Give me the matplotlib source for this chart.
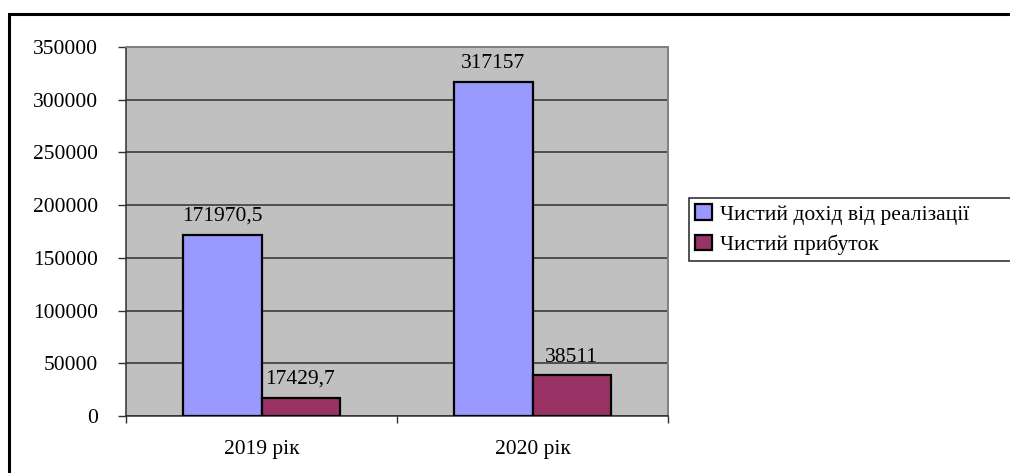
import matplotlib
matplotlib.use("Agg")
import matplotlib.pyplot as plt
from matplotlib.patches import Rectangle
import numpy as np

categories = ["2019 рік", "2020 рік"]
revenue = [171970.5, 317157]
profit = [17429.7, 38511]
revenue_labels = ["171970,5", "317157"]
profit_labels = ["17429,7", "38511"]
series_names = ["Чистий дохід від реалізації", "Чистий прибуток"]

plt.rcParams["font.family"] = ["Liberation Serif", "DejaVu Serif"]
FS = 15.5

W, H = 1010, 473
fig = plt.figure(figsize=(W / 100, H / 100), dpi=100)

# outer chart frame (runs off the right and bottom edges)
fig.patches.append(Rectangle((9 / W, -0.1), 1.5, (H - 14) / H + 0.1,
                             transform=fig.transFigure, fill=False,
                             edgecolor="black", linewidth=2.2, zorder=0))

ax = fig.add_axes([126 / W, 1 - 416 / H, (668 - 126) / W, (416 - 47) / H])
ax.set_facecolor("#C0C0C0")

x = np.arange(len(categories))
bw = 0.288
b1 = ax.bar(x - bw / 2, revenue, bw, color="#9999FF", edgecolor="black",
            linewidth=1.6, label=series_names[0], zorder=3)
b2 = ax.bar(x + bw / 2, profit, bw, color="#993366", edgecolor="black",
            linewidth=1.6, label=series_names[1], zorder=3)

for rects, labels in ((b1, revenue_labels), (b2, profit_labels)):
    for r, lab in zip(rects, labels):
        ax.annotate(lab, (r.get_x() + r.get_width() / 2, r.get_height()),
                    xytext=(0, 10), textcoords="offset points",
                    ha="center", va="baseline", fontsize=FS)

ax.set_xlim(-0.5, 1.5)
ax.set_ylim(0, 350000)
ax.set_yticks(np.arange(0, 350001, 50000))
ax.set_yticklabels([str(v) for v in range(0, 350001, 50000)], fontsize=FS)
ax.yaxis.grid(True, color="#303030", linewidth=1.1, zorder=1)
ax.set_axisbelow(True)

ax.set_xticks(x)
ax.set_xticklabels(categories, fontsize=FS)
ax.set_xticks([-0.5, 0.5, 1.5], minor=True)
ax.tick_params(axis="x", which="major", length=0, pad=17)
ax.tick_params(axis="x", which="minor", length=5, width=1, color="#303030")
ax.tick_params(axis="y", length=6, width=1, color="#303030", pad=14)

for side in ("top", "right"):
    ax.spines[side].set_color("#808080")
    ax.spines[side].set_linewidth(1.4)
ax.spines["left"].set_color("#303030")
ax.spines["bottom"].set_color("#303030")
ax.spines["left"].set_linewidth(1.1)
ax.spines["bottom"].set_linewidth(1.1)

leg = fig.legend(handles=[b1, b2], loc="upper left",
                 bbox_to_anchor=(689 / W, 1 - 263 / H, 0.5, 65 / H),
                 bbox_transform=fig.transFigure, mode="expand",
                 borderaxespad=0, fontsize=FS, frameon=True, fancybox=False,
                 handlelength=0.75, handleheight=0.75, handletextpad=0.4,
                 borderpad=0.3, labelspacing=0.45)
leg.get_frame().set_edgecolor("black")
leg.get_frame().set_linewidth(1.2)

fig.savefig("out.png", dpi=100)
